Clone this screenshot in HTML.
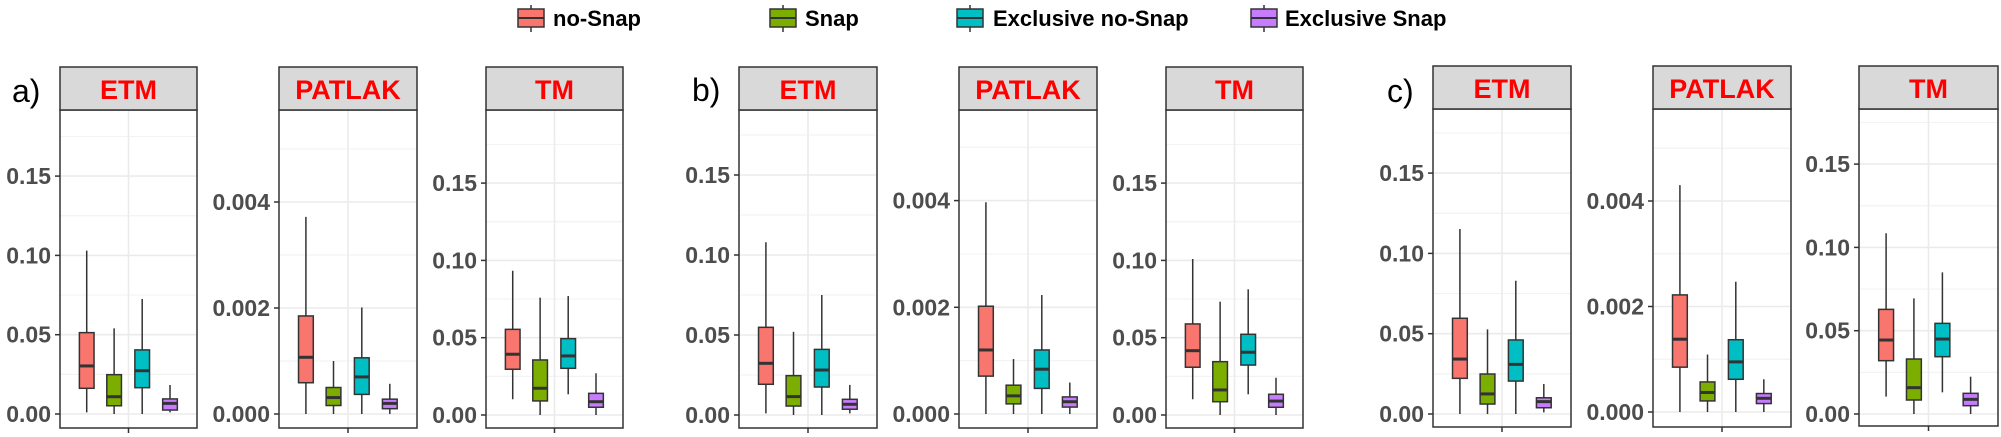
<!DOCTYPE html>
<html><head><meta charset="utf-8"><style>
html,body{margin:0;padding:0;background:#fff;}
svg{display:block;font-family:"Liberation Sans",Arial,sans-serif;}
</style></head><body>
<svg id="chart" width="2001" height="437" viewBox="0 0 2001 437" xmlns="http://www.w3.org/2000/svg">
<g id="legend"></g>
<g id="panels"></g>
</svg>
<script>
// ---- data ----
const categories = ['no-Snap','Snap','Exclusive no-Snap','Exclusive Snap'];
const colors = ['#F8766D','#7CAE00','#00BFC4','#C77CFF'];
const panelTitles = ['ETM','PATLAK','TM','ETM','PATLAK','TM','ETM','PATLAK','TM'];
const groupLabels = ['a)','b)','c)'];
// each stat: [lower whisker, Q1, median, Q3, upper whisker]
const aETM    = [[0.001,0.0162,0.0303,0.0513,0.103],[0,0.0052,0.0109,0.0248,0.054],[0,0.0166,0.0273,0.0404,0.0725],[0.001,0.0025,0.0067,0.0095,0.0183]];
const aPATLAK = [[0,0.00059,0.00107,0.00185,0.00372],[0,0.00016,0.00031,0.0005,0.001],[0,0.00037,0.0007,0.00106,0.00201],[0,0.0001,0.0002,0.00028,0.00057]];
const aTM     = [[0.0102,0.0296,0.0393,0.0554,0.0933],[0,0.0091,0.0173,0.0356,0.0759],[0.0134,0.0302,0.0382,0.0494,0.077],[0,0.005,0.0086,0.014,0.027]];
const bETM    = [[0.001,0.0192,0.0323,0.0548,0.108],[0,0.0056,0.0115,0.0246,0.052],[0,0.0175,0.0281,0.041,0.075],[0.001,0.0036,0.0067,0.0098,0.0188]];
const bPATLAK = [[0,0.00071,0.0012,0.00202,0.00397],[0,0.00019,0.00034,0.00054,0.00103],[0,0.00048,0.00084,0.0012,0.00223],[0,0.00013,0.00023,0.00032,0.00059]];
const bTM     = [[0.0102,0.0309,0.0416,0.0589,0.1009],[0,0.0086,0.0162,0.0345,0.0733],[0.0134,0.0323,0.0406,0.0522,0.0813],[0,0.005,0.009,0.0134,0.0241]];
const cETM    = [[0,0.0222,0.0342,0.0596,0.1152],[0,0.0062,0.0125,0.0249,0.0527],[0,0.0205,0.0309,0.0461,0.083],[0.001,0.0039,0.0077,0.0101,0.0187]];
const cPATLAK = [[0,0.00085,0.00138,0.00222,0.0043],[0,0.00021,0.00037,0.00057,0.00109],[0,0.00062,0.00095,0.00137,0.00247],[0,0.00016,0.00026,0.00035,0.00062]];
const cTM     = [[0.0104,0.032,0.0444,0.0628,0.1085],[0,0.0084,0.0158,0.033,0.0694],[0.013,0.0344,0.045,0.0544,0.085],[0,0.005,0.0088,0.0124,0.0224]];
const smallTicks = [0, 0.05, 0.10, 0.15];
const smallTickLabels = ['0.00','0.05','0.10','0.15'];
const patTicks = [0, 0.002, 0.004];
const patTickLabels = ['0.000','0.002','0.004'];
const panelData = [aETM,aPATLAK,aTM,bETM,bPATLAK,bTM,cETM,cPATLAK,cTM];

// ---- layout (pixels) ----
const layout = [
 {l:60,r:197,st:67,sb:110,pb:428,z:414,u:79.3/0.05,pat:false},
 {l:279,r:417,st:67,sb:110,pb:428,z:414,u:106/0.002,pat:true},
 {l:486,r:623,st:67,sb:110,pb:428,z:415,u:77.3/0.05,pat:false},
 {l:739,r:877,st:67,sb:110,pb:428,z:415,u:80/0.05,pat:false},
 {l:959,r:1097,st:67,sb:110,pb:428,z:414,u:106.7/0.002,pat:true},
 {l:1166,r:1303,st:67,sb:110,pb:428,z:415,u:77.3/0.05,pat:false},
 {l:1433,r:1571,st:66,sb:109,pb:427,z:414,u:80.3/0.05,pat:false},
 {l:1653,r:1791,st:66,sb:109,pb:427,z:412,u:105.5/0.002,pat:true},
 {l:1859,r:1998,st:66,sb:109,pb:426,z:414,u:83.3/0.05,pat:false}
];
const labelPos = [[12,102],[692,101],[1387,102]];
const legendPos = [[518,553],[770,805],[957,993],[1251,1285]];
const NS='http://www.w3.org/2000/svg';
function mk(tag,attrs,parent){const e=document.createElementNS(NS,tag);for(const k in attrs)e.setAttribute(k,attrs[k]);parent.appendChild(e);return e;}

// legend
const lg=document.getElementById('legend');
categories.forEach((c,i)=>{
  const g=mk('g',{},lg);
  
  
  const kx=legendPos[i][0], cy=18;
  mk('line',{x1:kx+13,x2:kx+13,y1:cy-13,y2:cy+14,stroke:'#333','stroke-width':1.5},g);
  mk('rect',{x:kx,y:cy-9,width:26,height:18,fill:colors[i],stroke:'#333','stroke-width':1.5},g);
  mk('line',{x1:kx,x2:kx+26,y1:cy,y2:cy,stroke:'#333','stroke-width':2},g);
  const t=mk('text',{x:legendPos[i][1],y:cy+8,'font-size':22,'font-weight':'bold',fill:'#000'},g);
  t.textContent=c;
});

// group labels
const pg=document.getElementById('panels');
groupLabels.forEach((s,i)=>{
  const t=mk('text',{x:labelPos[i][0],y:labelPos[i][1],'font-size':32,fill:'#000'},pg);
  
  
  t.textContent=s;
});

layout.forEach((L,pi)=>{
  const g=mk('g',{},pg);
  
  
  const w=L.r-L.l;
  const y=v=>L.z - v*L.u;
  const ticks=L.pat?patTicks:smallTicks, tl=L.pat?patTickLabels:smallTickLabels;
  const step=ticks[1]-ticks[0];
  const maxV=(L.z-L.sb)/L.u;
  mk('rect',{x:L.l,y:L.sb,width:w,height:L.pb-L.sb,fill:'#fff'},g);
  for(let v=step/2; v<maxV; v+=step){
    mk('line',{x1:L.l,x2:L.r,y1:y(v),y2:y(v),stroke:'#f3f3f3','stroke-width':1.2},g);
  }
  for(let v=0; v<maxV; v+=step){
    mk('line',{x1:L.l,x2:L.r,y1:y(v),y2:y(v),stroke:'#ebebeb','stroke-width':1.6},g);
  }
  const cx=L.l+w/2;
  mk('line',{x1:cx,x2:cx,y1:L.sb,y2:L.pb,stroke:'#ebebeb','stroke-width':1.6},g);
  const offs=[0.195,0.395,0.6,0.803], bw=w*0.107;
  panelData[pi].forEach((s,si)=>{
    const bg=mk('g',{},g);
    
    
    const x=L.l+w*offs[si];
    mk('line',{x1:x,x2:x,y1:y(s[0]),y2:y(s[4]),stroke:'#333','stroke-width':1.5},bg);
    mk('rect',{x:x-bw/2,y:y(s[3]),width:bw,height:y(s[1])-y(s[3]),fill:colors[si],stroke:'#333','stroke-width':1.5},bg);
    mk('line',{x1:x-bw/2,x2:x+bw/2,y1:y(s[2]),y2:y(s[2]),stroke:'#333','stroke-width':3},bg);
  });
  mk('rect',{x:L.l,y:L.sb,width:w,height:L.pb-L.sb,fill:'none',stroke:'#333','stroke-width':1.5},g);
  const st=mk('rect',{x:L.l,y:L.st,width:w,height:L.sb-L.st,fill:'#d9d9d9',stroke:'#333','stroke-width':1.5},g);
  
  
  const tt=mk('text',{x:cx,y:L.sb-11,'font-size':27,'font-weight':'bold',fill:'#ff0000','text-anchor':'middle'},g);
  tt.textContent=panelTitles[pi];
  ticks.forEach((v,ti)=>{
    mk('line',{x1:L.l-5,x2:L.l,y1:y(v),y2:y(v),stroke:'#333','stroke-width':1.5},g);
    const t=mk('text',{x:L.l-9,y:y(v)+8,'font-size':23,'font-weight':'bold',fill:'#4d4d4d','text-anchor':'end'},g);
    
    
    t.textContent=tl[ti];
  });
  mk('line',{x1:cx,x2:cx,y1:L.pb,y2:L.pb+5,stroke:'#333','stroke-width':1.5},g);
});
</script>
</body></html>
